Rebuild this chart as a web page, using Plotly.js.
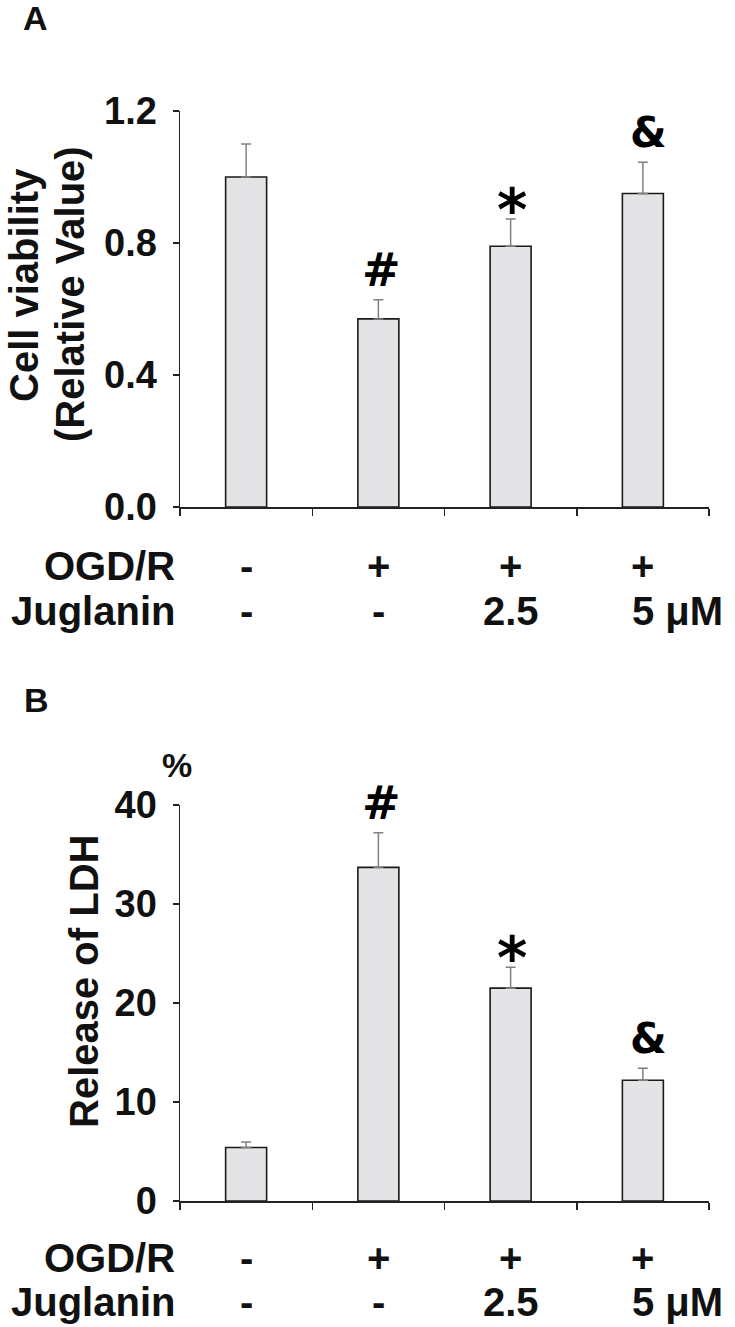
<!DOCTYPE html>
<html>
<head>
<meta charset="utf-8">
<script src="https://cdn.plot.ly/plotly-3.0.1.min.js"></script>
<style>
  html, body { margin: 0; padding: 0; background: #ffffff; }
  #chart { width: 735px; height: 1327px; }
</style>
</head>
<body>
<div id="chart"></div>
<script>
// ---- data ----
const categories = ['Control', 'OGD/R', 'OGD/R + Juglanin 2.5 μM', 'OGD/R + Juglanin 5 μM'];
const viability = [1.00, 0.57, 0.79, 0.95];
const viabilityErr = [0.10, 0.058, 0.083, 0.095];
const ldh = [5.4, 33.7, 21.5, 12.2];
const ldhErr = [0.57, 3.5, 2.1, 1.2];
const ogdLabels = ['-', '+', '+', '+'];
const juglaninLabels = ['-', '-', '2.5', '5 μM'];
const marks = ['', '#', '*', '&'];
const viabilityTicks = [0, 0.4, 0.8, 1.2];
const ldhTicks = [0, 10, 20, 30, 40];

// ---- layout helpers ----
const W = 735, H = 1327;
const px2x = p => p / W;
const px2y = p => (H - p) / H;
const FONT = 'Liberation Sans, Arial, Helvetica, sans-serif';
const SYMFONT = 'DejaVu Sans, sans-serif';
const INK = '#111111';
const AXIS = '#222222';

function barTrace(values, errs, xa, ya) {
  return {
    type: 'bar',
    x: categories,
    y: values,
    xaxis: xa,
    yaxis: ya,
    width: 0.31,
    marker: { color: '#e4e4e6', line: { color: '#1a1a1a', width: 1.6 } },
    error_y: {
      type: 'data', array: errs, arrayminus: errs.map(() => 0), symmetric: false,
      color: '#808080', thickness: 1.5, width: 5
    },
    hoverinfo: 'x+y'
  };
}

function xAxis(anchor) {
  return {
    domain: [px2x(180), px2x(709)],
    anchor: anchor,
    type: 'category',
    range: [-0.5, 3.5],
    showline: true, linecolor: AXIS, linewidth: 1.5,
    ticks: 'outside', tickson: 'boundaries', ticklen: 7, tickwidth: 1.5, tickcolor: AXIS,
    showticklabels: false, showgrid: false, zeroline: false, fixedrange: true
  };
}

function yAxis(anchor, top, bottom, range, ticks, fmt) {
  return {
    domain: [px2y(bottom), px2y(top)],
    anchor: anchor,
    range: range,
    tickvals: ticks,
    tickformat: fmt,
    showline: true, linecolor: AXIS, linewidth: 1.5,
    ticks: 'outside', ticklen: 6, tickwidth: 1.5, tickcolor: AXIS,
    ticklabelstandoff: 8,
    tickfont: { family: FONT, size: 38, color: INK, weight: 700 },
    showgrid: false, zeroline: false, fixedrange: true
  };
}

const annotations = [];
function txt(text, x, y, size, opts) {
  annotations.push(Object.assign({
    text: text, x: x, y: y, xref: 'paper', yref: 'paper',
    showarrow: false, xanchor: 'center', yanchor: 'middle',
    font: { family: FONT, size: size, color: INK, weight: 700 }
  }, opts || {}));
}

// panel letters
txt('A', px2x(35), px2y(18), 34);
txt('B', px2x(36), px2y(700), 34);
// y titles
txt('Cell viability', px2x(24), px2y(285), 40, { textangle: -90 });
txt('(Relative Value)', px2x(70), px2y(294), 40, { textangle: -90 });
txt('Release of LDH', px2x(84), px2y(982), 40, { textangle: -90 });
txt('%', px2x(177), px2y(765), 34);

// treatment rows
const ROWSIZE = 40;
function rows(axisName, ogdY, jugY) {
  txt('OGD/R', px2x(177), px2y(ogdY), ROWSIZE, { xanchor: 'right' });
  txt('Juglanin', px2x(177), px2y(jugY), ROWSIZE, { xanchor: 'right' });
  categories.forEach((c, i) => {
    annotations.push({
      text: ogdLabels[i], x: c, xref: axisName, y: px2y(ogdY), yref: 'paper',
      showarrow: false, xanchor: 'center', yanchor: 'middle',
      font: { family: FONT, size: ROWSIZE, color: INK, weight: 700 }
    });
    const isUnit = juglaninLabels[i].indexOf('μM') >= 0;
    annotations.push({
      text: juglaninLabels[i], x: c, xref: axisName, y: px2y(jugY), yref: 'paper',
      showarrow: false, xanchor: isUnit ? 'left' : 'center', xshift: isUnit ? -13 : 0,
      yanchor: 'middle',
      font: { family: FONT, size: ROWSIZE, color: INK, weight: 700 }
    });
  });
}
rows('x', 566, 611);
rows('x2', 1258, 1302);

// significance marks
const markStyle = {
  '#': { size: 46, yshift: 30, xshift: 3 },
  '*': { size: 58, yshift: 9, xshift: 1 },
  '&': { size: 42, yshift: 30, xshift: 6 }
};
function addMarks(values, errs, xa, ya) {
  marks.forEach((m, i) => {
    if (!m) return;
    const s = markStyle[m];
    annotations.push({
      text: m, x: categories[i], y: values[i] + errs[i], xref: xa, yref: ya,
      showarrow: false, xanchor: 'center', yanchor: 'middle',
      xshift: s.xshift, yshift: s.yshift,
      font: { family: SYMFONT, size: s.size, color: '#000000', weight: 700 }
    });
  });
}
addMarks(viability, viabilityErr, 'x', 'y');
addMarks(ldh, ldhErr, 'x2', 'y2');

const layout = {
  width: W, height: H,
  margin: { l: 0, r: 0, t: 0, b: 0, pad: 0 },
  paper_bgcolor: '#ffffff', plot_bgcolor: '#ffffff',
  showlegend: false,
  xaxis: xAxis('y'),
  yaxis: yAxis('x', 111, 507, [0, 1.2], viabilityTicks, '.1f'),
  xaxis2: xAxis('y2'),
  yaxis2: yAxis('x2', 805, 1201, [0, 40], ldhTicks, 'd'),
  annotations: annotations
};

Plotly.newPlot('chart',
  [barTrace(viability, viabilityErr, 'x', 'y'), barTrace(ldh, ldhErr, 'x2', 'y2')],
  layout, { displayModeBar: false, staticPlot: true });
</script>
</body>
</html>
